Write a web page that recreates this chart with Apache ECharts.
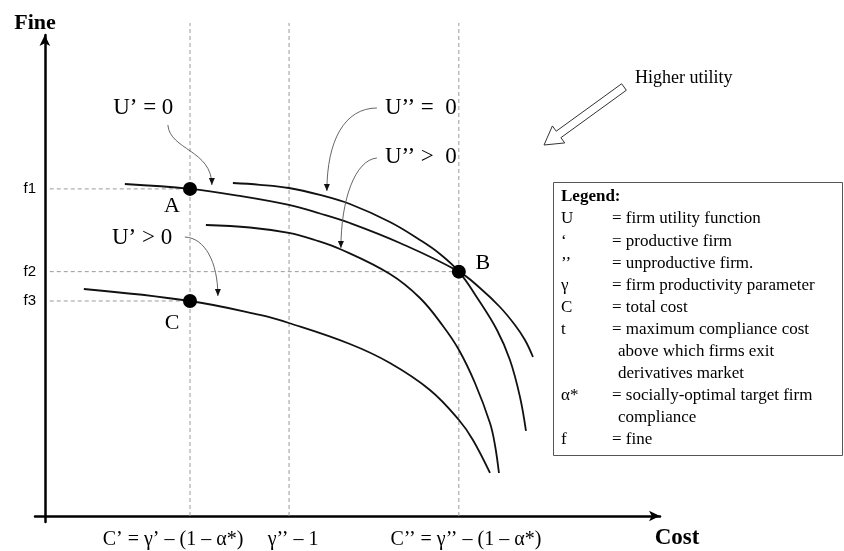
<!DOCTYPE html>
<html><head><meta charset="utf-8">
<script src="https://cdn.jsdelivr.net/npm/echarts@6/dist/echarts.min.js"></script>
<style>html,body{margin:0;padding:0;background:#fff}#c{width:844px;height:551px}</style>
</head><body><div id="c"></div>
<script>
// ---- data (abstract units: cost 0..100, fine 0..100) ----
const curveUPrimeZero = [[13.01,69.02],[23.6,68.0],[31.71,66.53],[39.67,64.66],[44.72,62.89],[49.59,60.91],[57.72,56.76],[67.3,50.8],[70.73,47.40],[73.98,43.45],[76.42,39.71],[78.05,36.59],[79.35,33.06]];
const curveUDoubleZero = [[30.57,69.23],[34.96,68.86],[39.67,68.19],[44.72,66.74],[49.59,64.86],[56.10,61.12],[60.98,57.38],[64.23,54.47],[67.3,50.8],[70.41,45.11],[73.50,38.67],[75.61,32.43],[77.24,24.74],[78.21,17.67]];
const curveUDoublePos = [[26.18,60.50],[33.33,59.98],[39.67,58.84],[43.90,57.38],[47.97,55.51],[56.10,50.31],[60.98,45.32],[64.72,39.50],[67.32,34.51],[69.92,27.65],[72.36,19.33],[73.17,14.76],[73.82,8.94]];
const curveUPrimePos = [[6.34,47.19],[23.6,44.7],[34.96,41.79],[39.67,40.12],[49.59,35.76],[56.10,31.81],[62.60,26.20],[67.32,19.96],[69.59,15.80],[72.36,8.94]];
const costTicks = [23.6, 39.7, 67.3];
const costTickLabels = ['C’ = γ’ – (1 – α*)', 'γ’’ – 1', 'C’’ = γ’’ – (1 – α*)'];
const fineLevels = [68.0, 50.8, 44.7];
const fineLabels = ['f1', 'f2', 'f3'];
const fineLineEnds = [23.6, 67.3, 23.6];
const pointNames = ['A', 'B', 'C'];
const pointX = [23.6, 67.3, 23.6];
const pointY = [68.0, 50.8, 44.7];
const legendSymbols = ['U', '‘', '’’', 'γ', 'C', 't', '', '', 'α*', '', 'f'];
const legendTexts = ['= firm utility function', '= productive firm', '= unproductive firm.', '= firm productivity parameter', '= total cost', '= maximum compliance cost', 'above which firms exit', 'derivatives market', '= socially-optimal target firm', 'compliance', '= fine'];

// ---- chart ----
const chart = echarts.init(document.getElementById('c'));
const SERIF = '"Liberation Serif", "Times New Roman", serif';
const curveStyle = { color: '#111', width: 1.8 };
function curve(name, data) {
  return { name, type: 'line', data, smooth: 0.4, symbol: 'none',
    lineStyle: curveStyle, silent: true, z: 3 };
}
const dashStyle = { color: '#9a9a9a', width: 1, type: [4, 3] };
const series = [];
costTicks.forEach((x, i) => series.push({ type: 'line', data: [[x, 0], [x, 102.5]], clip: false,
  symbol: 'none', lineStyle: dashStyle, silent: true, z: 1 }));
fineLevels.forEach((f, i) => series.push({ type: 'line', data: [[0.8, f], [fineLineEnds[i], f]],
  symbol: 'none', lineStyle: dashStyle, silent: true, z: 1 }));
series.push(curve("U'=0", curveUPrimeZero));
series.push(curve("U''=0", curveUDoubleZero));
series.push(curve("U''>0", curveUDoublePos));
series.push(curve("U'>0", curveUPrimePos));
series.push({ type: 'scatter', data: pointX.map((x, i) => [x, pointY[i]]), symbolSize: 14,
  itemStyle: { color: '#000', opacity: 1 }, z: 5 });

chart.setOption({
  animation: false,
  backgroundColor: '#fff',
  grid: { left: 35, right: 184, top: 35, bottom: 29 },
  xAxis: { type: 'value', min: -1.6, max: 100,
    axisLine: { show: true, onZero: true, lineStyle: { color: '#000', width: 2.5 }, symbol: ['none', 'arrow'], symbolSize: [8, 11] },
    axisTick: { show: false }, axisLabel: { show: false }, splitLine: { show: false } },
  yAxis: { type: 'value', min: -1.25, max: 100,
    axisLine: { show: true, onZero: true, lineStyle: { color: '#000', width: 2.5 }, symbol: ['none', 'arrow'], symbolSize: [8, 11] },
    axisTick: { show: false }, axisLabel: { show: false }, splitLine: { show: false } },
  series
});

const P = (x, y) => chart.convertToPixel({ gridIndex: 0 }, [x, y]);
const g = [];
function txt(x, y, text, font, align, valign, fill) {
  g.push({ type: 'text', z: 10, style: { x, y, text, font, textAlign: align || 'center', textVerticalAlign: valign || 'middle', fill: fill || '#000' } });
}
// axis names
txt(35, 23, 'Fine', 'bold 22px ' + SERIF);
txt(677, 538, 'Cost', 'bold 23px ' + SERIF);
// cost tick labels
const tickOffsets = [-17, 4, 7];
costTicks.forEach((x, i) => { const p = P(x, 0); txt(p[0] + tickOffsets[i], 540, costTickLabels[i], '20px ' + SERIF); });
// fine labels
fineLevels.forEach((f, i) => { const p = P(0, f); txt(36, p[1], fineLabels[i], '15px "Liberation Sans", Arial, sans-serif', 'right'); });
// point labels
const pointLabelOffsets = [[-18, 17], [24, -8], [-18, 22]];
pointNames.forEach((n, i) => { const p = P(pointX[i], pointY[i]); txt(p[0] + pointLabelOffsets[i][0], p[1] + pointLabelOffsets[i][1], n, '22px ' + SERIF); });
// curve annotations (data units)
const annotTexts = [
  { t: 'U’ = 0', x: 11.1, y: 84.82, a: 'left' },
  { t: 'U’’ =  0', x: 55.28, y: 84.82, a: 'left' },
  { t: 'U’’ >  0', x: 55.28, y: 74.64, a: 'left' },
  { t: 'U’ > 0', x: 10.9, y: 57.80, a: 'left' }
];
annotTexts.forEach(o => { const p = P(o.x, o.y); txt(p[0], p[1], o.t, '23px ' + SERIF, o.a); });
const annotArrows = [
  [[20.0, 81.29], [20.33, 76.09], [27.15, 76.09], [27.15, 68.81]],
  [[53.98, 84.82], [48.78, 84.82], [45.85, 78.17], [45.85, 67.57]],
  [[53.98, 74.43], [50.41, 74.01], [48.13, 65.70], [48.13, 55.72]],
  [[22.76, 58.00], [26.02, 57.80], [28.13, 52.81], [28.13, 45.74]]
];
annotArrows.forEach(a => {
  const q = a.map(v => P(v[0], v[1]));
  g.push({ type: 'bezierCurve', z: 4, shape: { x1: q[0][0], y1: q[0][1], cpx1: q[1][0], cpy1: q[1][1], cpx2: q[2][0], cpy2: q[2][1], x2: q[3][0], y2: q[3][1] },
    style: { stroke: '#555', lineWidth: 0.9, fill: null } });
  const dx = q[3][0] - q[2][0], dy = q[3][1] - q[2][1], L = Math.hypot(dx, dy);
  const ux = dx / L, uy = dy / L, nx = -uy, ny = ux;
  const bx = q[3][0] - 7 * ux, by = q[3][1] - 7 * uy;
  g.push({ type: 'polygon', z: 4, shape: { points: [[q[3][0], q[3][1]], [bx + 3 * nx, by + 3 * ny], [bx - 3 * nx, by - 3 * ny]] }, style: { fill: '#111' } });
});
// higher utility hollow arrow
(function () {
  const S = [624, 87], T = [544, 145];
  const dx = T[0] - S[0], dy = T[1] - S[1], L = Math.hypot(dx, dy);
  const u = [dx / L, dy / L], n = [-u[1], u[0]];
  const H = [T[0] - 18 * u[0], T[1] - 18 * u[1]];
  const pt = (b, k) => [b[0] + k * n[0], b[1] + k * n[1]];
  g.push({ type: 'polygon', z: 6, shape: { points: [pt(S, 4), pt(H, 4), pt(H, 10.5), T, pt(H, -10.5), pt(H, -4), pt(S, -4)] },
    style: { fill: '#fff', stroke: '#333', lineWidth: 1 } });
  txt(635, 78, 'Higher utility', '18px ' + SERIF, 'left');
})();
// legend box
g.push({ type: 'rect', z: 6, shape: { x: 553.5, y: 182.5, width: 289, height: 273 }, style: { fill: '#fff', stroke: '#555', lineWidth: 1 } });
txt(561, 197, 'Legend:', 'bold 17px ' + SERIF, 'left');
legendTexts.forEach((t, i) => {
  const y = 219 + i * 22.1;
  if (legendSymbols[i]) txt(561, y, legendSymbols[i], '17px ' + SERIF, 'left');
  const indent = t.charAt(0) === '=' ? 612 : 618;
  txt(indent, y, t, '17px ' + SERIF, 'left');
});
chart.setOption({ graphic: g });
</script>
</body></html>
